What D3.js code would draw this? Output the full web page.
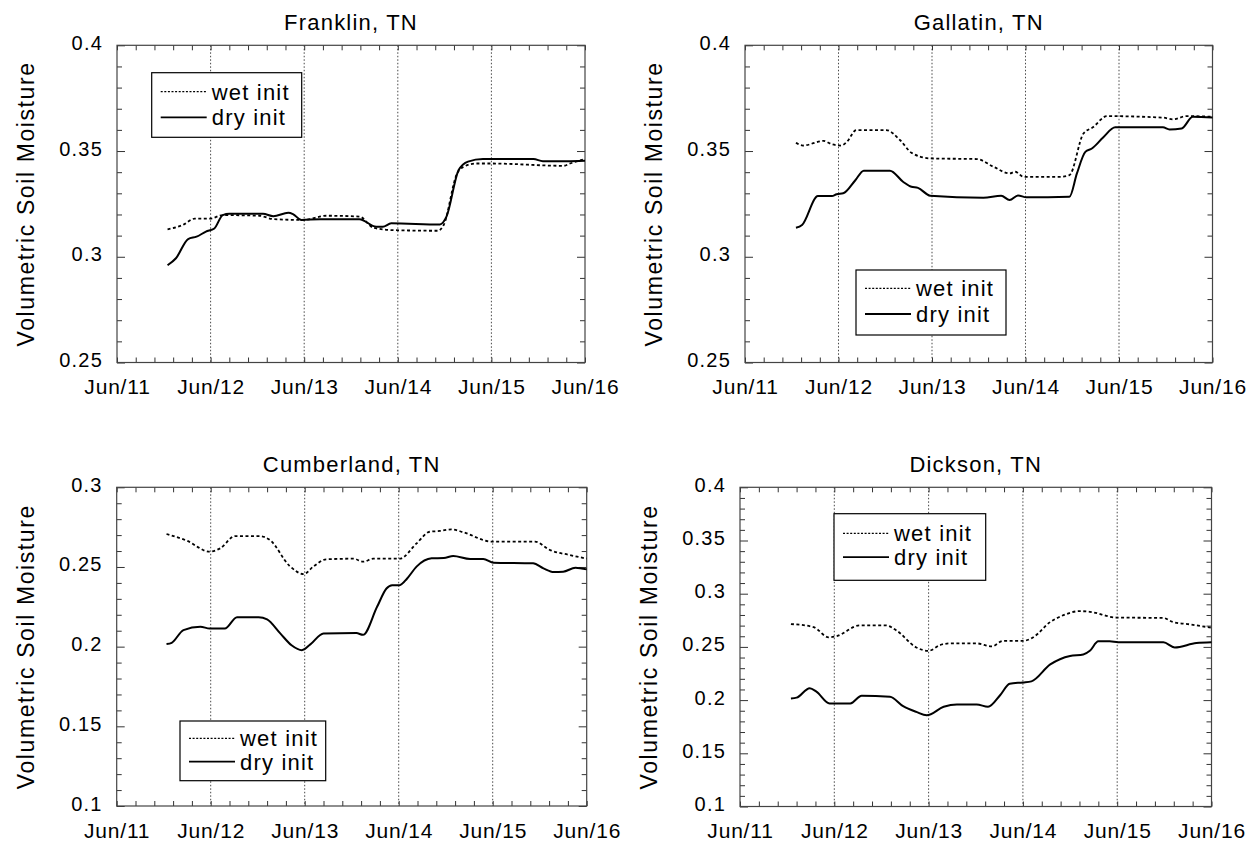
<!DOCTYPE html>
<html>
<head>
<meta charset="utf-8">
<script src="https://cdn.jsdelivr.net/npm/d3@7"></script>
<style>
  body { margin: 0; background: #fff; }
  svg { display: block; font-family: "Liberation Sans", Arial, Helvetica, sans-serif; }
</style>
</head>
<body>
<svg id="chart" width="1257" height="845"></svg>
<script>
// Time axis: day of June (Jun/11 00:00 = 11)
const dayDomain = [11, 16];
const dayLabels = ["Jun/11", "Jun/12", "Jun/13", "Jun/14", "Jun/15", "Jun/16"];
const seriesNames = ["wet init", "dry init"];
const yAxisTitle = "Volumetric Soil Moisture";

// Volumetric soil moisture, [day of June, value]
const franklinWet = [[11.54,0.313],[11.70,0.315],[11.83,0.318],[11.99,0.318],[12.13,0.3197],[12.52,0.3194],[12.67,0.3178],[12.99,0.3174],[13.24,0.3194],[13.59,0.319],[13.74,0.3137],[13.95,0.3126],[14.43,0.3123],[14.49,0.315],[14.63,0.339],[14.70,0.3425],[14.84,0.3441],[15.0,0.3441],[15.77,0.343],[15.84,0.3441],[16.0,0.3462]];
const franklinDry = [[11.54,0.296],[11.63,0.2993],[11.76,0.3084],[11.85,0.3095],[11.95,0.3119],[12.04,0.3134],[12.13,0.3197],[12.20,0.3203],[12.56,0.3203],[12.67,0.3192],[12.83,0.3208],[12.88,0.3202],[12.97,0.3174],[13.17,0.3178],[13.59,0.3177],[13.77,0.3142],[13.84,0.3142],[13.93,0.3158],[14.45,0.3153],[14.52,0.319],[14.65,0.341],[14.75,0.345],[14.91,0.3462],[15.45,0.3462],[15.55,0.3452],[15.80,0.3452],[16.0,0.3454]];

const gallatinWet = [[11.545,0.3539],[11.62,0.3526],[11.84,0.3548],[11.93,0.3532],[12.03,0.3526],[12.09,0.3544],[12.19,0.3599],[12.51,0.3599],[12.66,0.3551],[12.78,0.3492],[12.98,0.3465],[13.48,0.3462],[13.66,0.3425],[13.83,0.3394],[13.89,0.3402],[13.98,0.3378],[14.37,0.3378],[14.47,0.3386],[14.62,0.3583],[14.72,0.3612],[14.87,0.3665],[15.47,0.3658],[15.58,0.365],[15.72,0.3665],[16.0,0.3662]];
const gallatinDry = [[11.545,0.3137],[11.61,0.315],[11.78,0.3287],[11.93,0.3287],[11.98,0.3296],[12.05,0.33],[12.18,0.3362],[12.27,0.3407],[12.55,0.3407],[12.69,0.3355],[12.78,0.3331],[12.85,0.3326],[12.98,0.3289],[13.55,0.3279],[13.74,0.3289],[13.83,0.3268],[13.92,0.329],[14.01,0.3281],[14.47,0.3284],[14.55,0.3394],[14.64,0.3496],[14.71,0.3512],[14.83,0.3564],[14.96,0.3612],[15.47,0.3612],[15.54,0.3602],[15.67,0.3607],[15.79,0.3662],[16.0,0.3659]];

const cumberlandWet = [[11.53,0.2707],[11.745,0.2665],[11.99,0.2596],[12.1,0.2617],[12.26,0.2694],[12.52,0.2694],[12.63,0.2669],[12.84,0.2506],[12.99,0.2455],[13.09,0.2502],[13.23,0.2548],[13.52,0.2552],[13.62,0.2533],[13.73,0.2552],[14.01,0.2552],[14.19,0.2648],[14.33,0.2721],[14.44,0.2726],[14.56,0.2736],[14.69,0.2717],[14.99,0.2659],[15.45,0.2659],[15.61,0.2606],[15.82,0.2575],[16.0,0.2552]];
const cumberlandDry = [[11.53,0.2016],[11.585,0.2024],[11.71,0.2104],[11.89,0.2125],[11.99,0.2114],[12.15,0.2114],[12.28,0.2185],[12.51,0.2185],[12.6,0.2171],[12.74,0.2083],[12.86,0.2009],[12.97,0.1978],[13.06,0.2014],[13.2,0.2083],[13.55,0.2085],[13.62,0.2074],[13.77,0.225],[13.87,0.2365],[13.93,0.2386],[14.01,0.2386],[14.09,0.2428],[14.19,0.2502],[14.35,0.2554],[14.48,0.2556],[14.58,0.2569],[14.76,0.255],[14.9,0.255],[15.01,0.2527],[15.43,0.2523],[15.54,0.2491],[15.65,0.2468],[15.75,0.247],[15.88,0.2495],[16.0,0.2485]];

const dicksonWet = [[11.54,0.2715],[11.78,0.2686],[11.94,0.259],[12.02,0.26],[12.27,0.2702],[12.55,0.2702],[12.66,0.2654],[12.87,0.2495],[13.0,0.2463],[13.12,0.2517],[13.23,0.2533],[13.51,0.2533],[13.67,0.2504],[13.79,0.2556],[14.0,0.2556],[14.11,0.2591],[14.29,0.2734],[14.43,0.2798],[14.6,0.2836],[14.71,0.283],[14.99,0.2776],[15.49,0.2772],[15.59,0.2734],[15.77,0.2712],[16.0,0.268]];
const dicksonDry = [[11.54,0.2016],[11.6,0.2023],[11.74,0.2112],[11.81,0.208],[11.95,0.1969],[12.17,0.1969],[12.29,0.2042],[12.59,0.2032],[12.73,0.1943],[12.87,0.1889],[12.98,0.1857],[13.16,0.1937],[13.3,0.1959],[13.51,0.1959],[13.63,0.1937],[13.76,0.2048],[13.86,0.2154],[14.0,0.2166],[14.09,0.2176],[14.29,0.2335],[14.5,0.2415],[14.64,0.2428],[14.71,0.2463],[14.8,0.2552],[14.92,0.2552],[15.01,0.2543],[15.49,0.2543],[15.61,0.2495],[15.84,0.2536],[16.0,0.2543]];

// Labelled y ticks per station
const franklinYTicks = [0.25, 0.3, 0.35, 0.4];
const gallatinYTicks = [0.25, 0.3, 0.35, 0.4];
const cumberlandYTicks = [0.1, 0.15, 0.2, 0.25, 0.3];
const dicksonYTicks = [0.1, 0.15, 0.2, 0.25, 0.3, 0.35, 0.4];

const panels = [
  { title: "Franklin, TN", wet: franklinWet, dry: franklinDry, yDomain: [0.25, 0.4], yTicks: franklinYTicks,
    box: { x: 117, y: 45.3, w: 468, h: 317.2 }, legend: { dx: 34.7, dy: 27.4, w: 150, h: 64.6, r1: 19, r2: 44.6 } },
  { title: "Gallatin, TN", wet: gallatinWet, dry: gallatinDry, yDomain: [0.25, 0.4], yTicks: gallatinYTicks,
    box: { x: 745, y: 45.3, w: 467.5, h: 317.2 }, legend: { dx: 111, dy: 224.7, w: 150, h: 65, r1: 18.3, r2: 44 } },
  { title: "Cumberland, TN", wet: cumberlandWet, dry: cumberlandDry, yDomain: [0.1, 0.3], yTicks: cumberlandYTicks,
    box: { x: 116.7, y: 487.3, w: 470, h: 318.7 }, legend: { dx: 63.3, dy: 233.7, w: 145.7, h: 59.7, r1: 17.3, r2: 40.7 } },
  { title: "Dickson, TN", wet: dicksonWet, dry: dicksonDry, yDomain: [0.1, 0.4], yTicks: dicksonYTicks,
    box: { x: 740, y: 487.3, w: 471.5, h: 319.2 }, legend: { dx: 94, dy: 26.4, w: 151.7, h: 66.6, r1: 19.7, r2: 43.5 } }
];

const svg = d3.select("#chart");
svg.append("rect").attr("width", 1257).attr("height", 845).attr("fill", "#fff");

const fmt = d3.format("~g");
const isMajor = v => Math.abs(v / 0.05 - Math.round(v / 0.05)) < 1e-6;

panels.forEach(p => {
  const { x: bx, y: by, w, h } = p.box;
  const g = svg.append("g").attr("transform", `translate(${bx},${by})`);

  const x = d3.scaleLinear().domain(dayDomain).range([0, w]);
  const y = d3.scaleLinear().domain(p.yDomain).range([h, 0]);

  const xMinor = x.ticks(20);                                   // every 6 hours
  const yMinor = y.ticks(Math.round((p.yDomain[1] - p.yDomain[0]) / 0.01)); // every 0.01

  // dotted day grid lines
  g.append("g").selectAll("line")
    .data(d3.range(dayDomain[0] + 1, dayDomain[1]))
    .join("line")
    .attr("x1", d => x(d)).attr("x2", d => x(d))
    .attr("y1", 0).attr("y2", h)
    .attr("stroke", "#333").attr("stroke-width", 0.9)
    .attr("stroke-dasharray", "1.5,2");

  // bottom axis with day labels
  const bottom = g.append("g").attr("transform", `translate(0,${h})`)
    .call(d3.axisBottom(x).tickValues(xMinor).tickSize(-5).tickPadding(17)
      .tickFormat(d => Number.isInteger(d) ? dayLabels[d - dayDomain[0]] : ""));
  const top = g.append("g")
    .call(d3.axisTop(x).tickValues(xMinor).tickSize(-5).tickFormat(""));

  const left = g.append("g")
    .call(d3.axisLeft(y).tickValues(yMinor).tickSize(-5).tickPadding(14)
      .tickFormat(d => p.yTicks.some(t => Math.abs(t - d) < 1e-9) ? fmt(d) : ""));
  const right = g.append("g").attr("transform", `translate(${w},0)`)
    .call(d3.axisRight(y).tickValues(yMinor).tickSize(-5).tickFormat(""));

  [left, right].forEach(a => a.selectAll(".tick line")
    .attr("x2", function (d) {
      const s = +d3.select(this).attr("x2");
      return isMajor(d) ? Math.sign(s) * 8 : s;
    }));

  [bottom, top, left, right].forEach(a => {
    a.select(".domain").remove();
    a.selectAll(".tick line").attr("stroke", "#333").attr("stroke-width", 1);
    a.attr("font-family", null).attr("font-size", null);
  });
  bottom.selectAll("text").attr("font-size", 21).attr("letter-spacing", 0.8).attr("fill", "#000");
  left.selectAll("text").attr("font-size", 20).attr("letter-spacing", 1.2).attr("dy", "0.2em").attr("fill", "#000");

  // frame
  g.append("rect").attr("width", w).attr("height", h)
    .attr("fill", "none").attr("stroke", "#444").attr("stroke-width", 1.2);

  const line = d3.line().x(d => x(d[0])).y(d => y(d[1])).curve(d3.curveMonotoneX);

  g.append("path").datum(p.wet).attr("d", line)
    .attr("fill", "none").attr("stroke", "#000").attr("stroke-width", 1.8)
    .attr("stroke-dasharray", "3,2.5");
  g.append("path").datum(p.dry).attr("d", line)
    .attr("fill", "none").attr("stroke", "#000").attr("stroke-width", 2);

  // title
  svg.append("text").attr("x", bx + w / 2).attr("y", by - 15.5)
    .attr("text-anchor", "middle").attr("font-size", 22).attr("letter-spacing", 1.2)
    .text(p.title);

  // y-axis title
  svg.append("text")
    .attr("transform", `translate(${bx - 83},${by + h / 2}) rotate(-90)`)
    .attr("text-anchor", "middle").attr("font-size", 23).attr("letter-spacing", 1.6)
    .text(yAxisTitle);

  // legend
  const L = p.legend;
  const lg = g.append("g").attr("transform", `translate(${L.dx},${L.dy})`);
  lg.append("rect").attr("width", L.w).attr("height", L.h)
    .attr("fill", "#fff").attr("stroke", "#000").attr("stroke-width", 1.2);
  const rows = [L.r1, L.r2];
  seriesNames.forEach((name, i) => {
    lg.append("line").attr("x1", 9).attr("x2", 55).attr("y1", rows[i]).attr("y2", rows[i])
      .attr("stroke", "#000")
      .attr("stroke-width", i === 0 ? 1.3 : 1.8)
      .attr("stroke-dasharray", i === 0 ? "2,1.6" : null);
    lg.append("text").attr("x", 60).attr("y", rows[i] + 8)
      .attr("font-size", 22).attr("letter-spacing", 1.2).text(name);
  });
});
</script>
</body>
</html>
